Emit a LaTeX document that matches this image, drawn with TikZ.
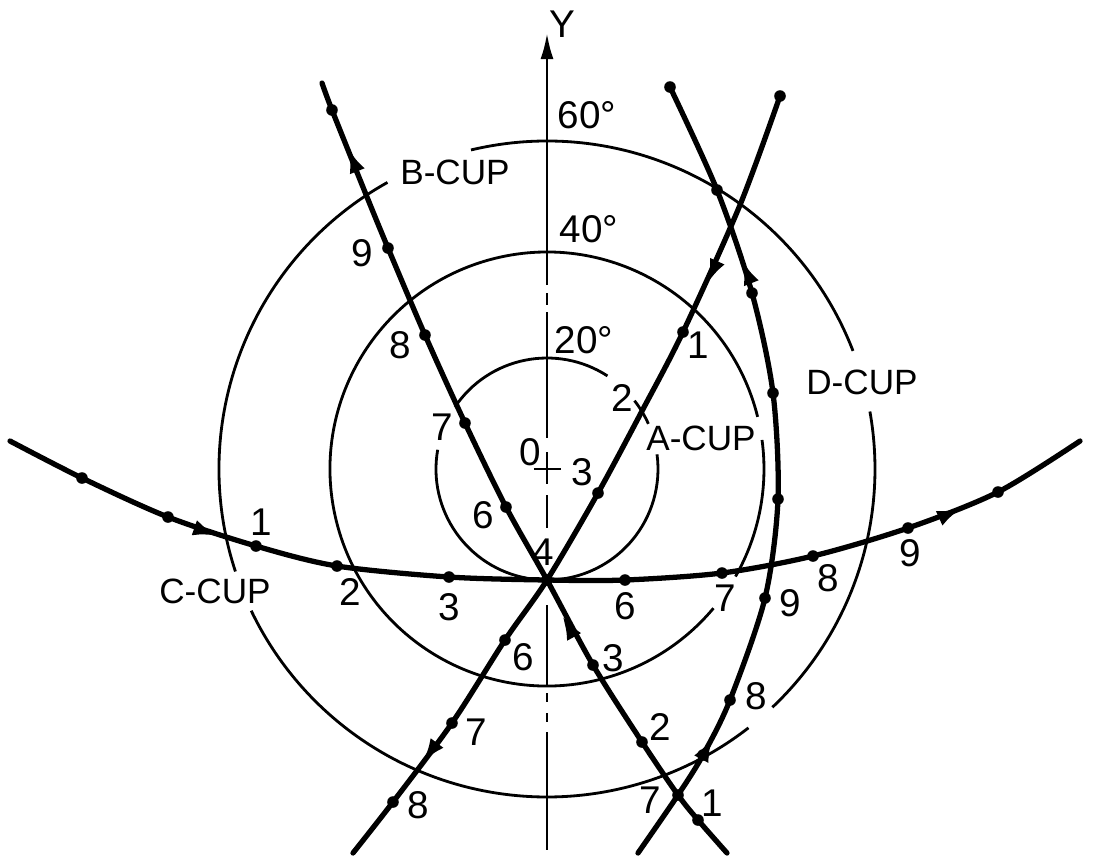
\documentclass[tikz,border=0pt]{standalone}
\usepackage{fontspec}
\setmainfont{Liberation Sans}
\usetikzlibrary{arrows.meta}

\begin{document}
\begin{tikzpicture}[
    font=\fontsize{11}{13}\selectfont,
    ring/.style={line width=0.8pt},
    cup/.style={line width=1.5pt, line cap=round},
    dir/.style={line width=1.5pt, -{Latex[length=2.5mm, width=1.6mm]}},
    axisline/.style={line width=0.8pt},
    lbl/.style={inner sep=0pt},
    cupname/.style={inner sep=0pt, font=\fontsize{10}{12}\selectfont}
  ]
  \useasboundingbox (-5.47,-3.90) rectangle (5.47,4.69);

  % circles 20, 40, 60 deg
  \draw[ring] (57:1.11) arc[start angle=57, end angle=146, radius=1.11];
  \draw[ring] (24:1.11) arc[start angle=24, end angle=38, radius=1.11];
  \draw[ring] (170:1.11) arc[start angle=170, end angle=367.6, radius=1.11];
  \draw[ring] (13.9:2.17) arc[start angle=13.9, end angle=320.1, radius=2.17];
  \draw[ring] (-29.7:2.17) arc[start angle=-29.7, end angle=7.7, radius=2.17];
  \draw[ring] (21.1:3.28) arc[start angle=21.1, end angle=103.4, radius=3.28];
  \draw[ring] (119.1:3.28) arc[start angle=119.1, end angle=198.2, radius=3.28];
  \draw[ring] (205.6:3.28) arc[start angle=205.6, end angle=307.9, radius=3.28];
  \draw[ring] (313.4:3.28) arc[start angle=313.4, end angle=370.1, radius=3.28];

  % Y axis
  \coordinate (ytip) at (0,4.36);
  \coordinate (ybase) at (0,1.84);
  \draw[axisline, -{Latex[length=2.6mm, width=1.3mm]}] (ybase) -- (ytip);
  \foreach \ya/\yb in {1.76/1.64, 1.57/0.31, -0.26/-0.59, -1.36/-2.16,
                       -2.24/-2.33, -2.44/-2.53, -2.63/-3.81}
    \draw[axisline] (0,\ya) -- (0,\yb);
  \draw[axisline] (-0.13,0) -- (0.14,0);
  \draw[axisline] (0,0.17) -- (0,-0.15);

  \coordinate (O) at (0,-1.11);

  % A-cup
  \coordinate (a0) at (2.33,3.73);
  \coordinate (a1) at (1.36,1.37);
  \coordinate (a2) at (0.95,0.58);
  \coordinate (a3) at (0.51,-0.24);
  \coordinate (a6) at (-0.42,-1.71);
  \coordinate (a7) at (-0.95,-2.54);
  \coordinate (a8) at (-1.54,-3.33);
  \coordinate (aend) at (-1.94,-3.84);
  \draw[cup] plot[smooth] coordinates {(a0) (1.93,2.64) (a1) (a2) (a3) (O) (a6) (a7) (a8) (aend)};
  \draw[dir] (1.69,2.05) -- (1.60,1.85);
  \draw[dir] (-1.10,-2.74) -- (-1.25,-2.94);

  % B-cup
  \coordinate (bend) at (-2.25,3.86);
  \coordinate (b10) at (-2.15,3.59);
  \coordinate (b9) at (-1.59,2.21);
  \coordinate (b8) at (-1.22,1.34);
  \coordinate (b7) at (-0.82,0.46);
  \coordinate (b6) at (-0.41,-0.38);
  \coordinate (b3) at (0.46,-1.96);
  \coordinate (b2) at (0.95,-2.73);
  \coordinate (bd) at (1.31,-3.26);
  \coordinate (b1) at (1.51,-3.51);
  \coordinate (bend2) at (1.80,-3.84);
  \draw[cup] plot[smooth] coordinates {(bend) (b10) (-1.80,2.72) (b9) (b8) (b7) (b6) (O) (b3) (b2) (bd) (b1) (bend2)};
  \draw[dir] (-1.91,3.01) -- (-1.99,3.21);
  \draw[dir] (0.26,-1.66) -- (0.15,-1.46);

  % C-cup
  \coordinate (cend) at (-5.37,0.28);
  \coordinate (c-1) at (-4.65,-0.09);
  \coordinate (c0) at (-3.79,-0.48);
  \coordinate (c1) at (-2.91,-0.77);
  \coordinate (c2) at (-2.10,-0.97);
  \coordinate (c3) at (-0.98,-1.08);
  \coordinate (c6) at (0.78,-1.11);
  \coordinate (c7) at (1.75,-1.04);
  \coordinate (c8) at (2.66,-0.87);
  \coordinate (c9) at (3.61,-0.59);
  \coordinate (c10) at (4.51,-0.23);
  \coordinate (cend2) at (5.33,0.28);
  \draw[cup] plot[smooth] coordinates {(cend) (c-1) (c0) (c1) (c2) (c3) (O) (c6) (c7) (c8) (c9) (c10) (cend2)};
  \draw[dir] (-3.49,-0.60) -- (-3.29,-0.67);
  \draw[dir] (3.95,-0.48) -- (4.15,-0.39);

  % D-cup
  \coordinate (d0) at (1.23,3.82);
  \coordinate (d1) at (1.70,2.79);
  \coordinate (d2) at (2.05,1.76);
  \coordinate (d3) at (2.26,0.76);
  \coordinate (d4) at (2.31,-0.30);
  \coordinate (d9) at (2.18,-1.29);
  \coordinate (d8) at (1.83,-2.31);
  \coordinate (d7) at (1.56,-2.86);
  \coordinate (dend) at (0.91,-3.84);
  \draw[cup] plot[smooth] coordinates {(d0) (d1) (d2) (d3) (d4) (d9) (d8) (d7) (bd) (dend)};
  \draw[dir] (2.03,1.89) -- (1.95,2.09);
  \draw[dir] (1.57,-2.85) -- (1.66,-2.68);

  % points
  \foreach \p in {O, a0, a1, a3, a6, a7, a8, b10, b9, b8, b7, b6, b3, b2, bd, b1,
                  c-1, c0, c1, c2, c3, c6, c7, c8, c9, c10, d0, d1, d2, d3, d4, d9, d8, d7}
    \fill (\p) circle[radius=0.058];

  % labels
  \node[lbl] (ylab) at (0.15,4.45) {Y};
  \node[lbl] (deg60) at (0.40,3.54) {60°};
  \node[lbl] (deg40) at (0.42,2.40) {40°};
  \node[lbl] (deg20) at (0.37,1.29) {20°};
  \node[cupname] (bcup) at (-0.92,2.97) {B-CUP};
  \node[cupname] (acup) at (1.54,0.31) {A-CUP};
  \node[cupname] (dcup) at (3.15,0.87) {D-CUP};
  \node[cupname] (ccup) at (-3.32,-1.22) {C-CUP};
  \node[lbl] (zero) at (-0.17,0.17) {0};

  \node[lbl] (la1) at (1.51,1.24) {1};
  \node[lbl] (la2) at (0.75,0.71) {2};
  \node[lbl] (la3) at (0.35,-0.03) {3};
  \node[lbl] (la4) at (-0.04,-0.83) {4};
  \node[lbl] (la6) at (-0.24,-1.88) {6};
  \node[lbl] (la7) at (-0.71,-2.63) {7};
  \node[lbl] (la8) at (-1.29,-3.36) {8};

  \node[lbl] (lb9) at (-1.85,2.16) {9};
  \node[lbl] (lb8) at (-1.47,1.24) {8};
  \node[lbl] (lb7) at (-1.05,0.42) {7};
  \node[lbl] (lb6) at (-0.64,-0.46) {6};
  \node[lbl] (lb3) at (0.66,-1.89) {3};
  \node[lbl] (lb2) at (1.13,-2.58) {2};
  \node[lbl] (lb1) at (1.65,-3.34) {1};
  \node[lbl] (ld7) at (1.03,-3.31) {7};

  \node[lbl] (lc1) at (-2.86,-0.53) {1};
  \node[lbl] (lc2) at (-1.97,-1.23) {2};
  \node[lbl] (lc3) at (-0.98,-1.38) {3};
  \node[lbl] (lc6) at (0.78,-1.37) {6};
  \node[lbl] (lc7) at (1.78,-1.29) {7};
  \node[lbl] (lc8) at (2.81,-1.09) {8};
  \node[lbl] (lc9) at (3.63,-0.84) {9};

  \node[lbl] (ld9) at (2.43,-1.34) {9};
  \node[lbl] (ld8) at (2.09,-2.27) {8};
\end{tikzpicture}
\end{document}
